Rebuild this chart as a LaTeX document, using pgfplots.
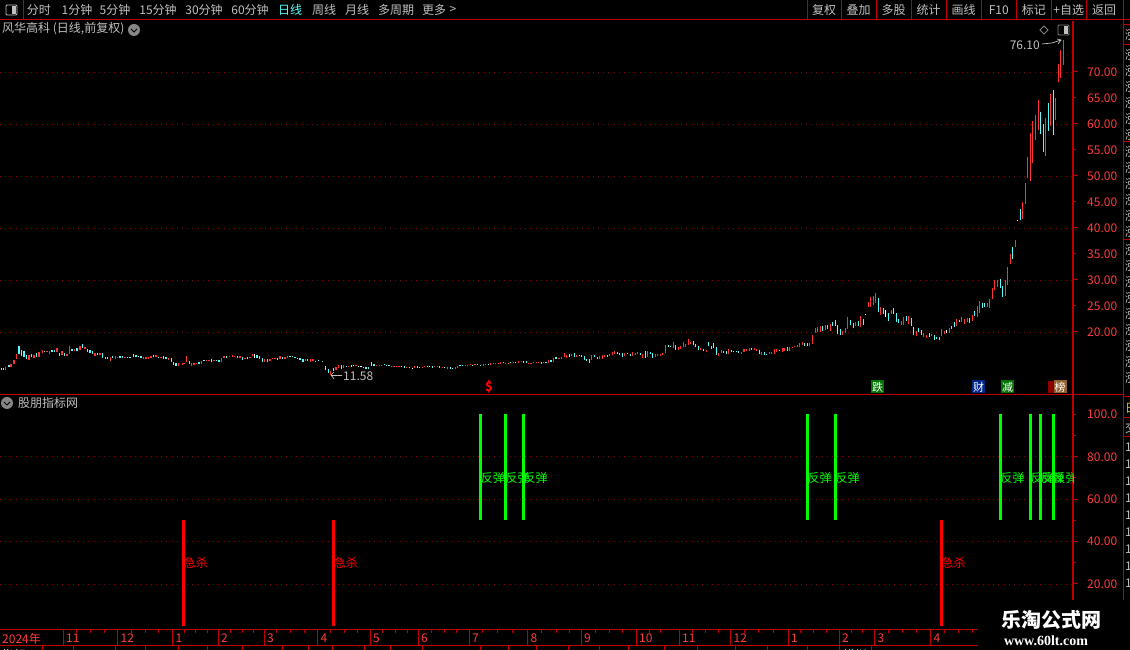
\documentclass[border=0pt]{standalone}
\usepackage{pgfplots}
\usepackage{pgfplotstable}
\usepackage{fontspec}
\pgfplotsset{compat=1.18}
\setmainfont{Noto Sans CJK SC}
\newfontfamily\wmserif{Liberation Serif}

\definecolor{frame}{HTML}{C00000}
\definecolor{griddot}{HTML}{900000}
\definecolor{ticktxt}{HTML}{FF3C3C}
\definecolor{upc}{HTML}{FF3232}
\definecolor{downc}{HTML}{54FCFC}
\definecolor{txt}{HTML}{C0C0C0}
\definecolor{sig}{HTML}{00FF00}

% daily bars: x position, low, high
\pgfplotstableread{
x lo hi
5.7 12.69 13.21
11.0 13.33 13.85
14.0 13.85 14.62
16.3 14.74 15.77
29.0 14.62 15.64
34.0 15.00 15.64
39.0 15.26 16.22
42.3 16.03 16.54
47.0 16.09 16.35
49.3 15.77 16.35
57.0 16.15 16.92
62.0 15.51 16.35
67.0 15.38 15.77
69.3 15.77 17.31
74.3 16.28 16.67
80.0 16.54 17.31
85.0 16.67 17.05
95.0 15.38 16.03
100.0 15.58 15.90
110.3 14.36 15.13
115.3 14.81 15.38
117.7 15.13 15.26
125.0 15.00 15.26
143.7 14.81 15.13
146.0 14.81 15.13
148.7 14.81 15.13
151.0 15.00 15.38
156.0 15.13 15.64
161.0 14.94 15.13
168.7 14.62 15.00
178.3 13.46 14.10
182.3 13.72 14.10
184.0 13.78 14.04
186.3 14.23 15.38
191.7 13.46 14.04
194.0 13.59 14.04
196.7 13.85 14.10
201.3 13.85 14.42
206.7 14.36 14.62
209.0 14.42 14.62
214.0 14.36 14.62
221.3 14.23 15.00
224.0 15.00 15.38
229.3 15.13 15.38
232.3 15.19 15.58
234.7 15.13 15.38
240.0 15.00 15.38
245.0 14.74 15.00
250.0 15.00 15.26
252.3 15.38 15.77
264.7 14.23 14.87
270.0 14.36 14.87
272.3 14.74 15.00
275.0 14.74 15.00
280.0 14.74 15.38
285.0 14.74 15.26
287.3 15.00 15.38
305.3 14.36 14.87
310.3 14.23 14.87
313.0 14.49 14.87
330.7 11.67 12.44
336.0 12.69 13.21
338.7 13.08 13.59
343.7 13.08 13.66
348.7 13.21 13.46
356.0 13.46 13.66
376.7 13.46 13.72
379.3 13.46 13.72
381.7 13.59 13.72
391.7 13.21 13.46
394.0 13.27 13.46
396.7 13.33 13.46
399.0 13.27 13.46
406.7 13.08 13.33
414.3 13.08 13.46
422.3 13.08 13.33
424.3 13.27 13.46
434.7 13.27 13.46
437.3 13.27 13.46
442.3 13.08 13.33
447.3 12.82 13.33
455.3 12.88 13.20
457.3 13.08 13.46
465.3 13.46 13.72
467.3 13.46 13.72
470.3 13.59 13.85
475.0 13.59 13.85
483.3 13.53 13.91
485.3 13.66 13.91
490.3 13.66 13.97
493.3 13.85 14.10
495.7 13.85 14.10
498.3 13.85 14.10
500.3 13.85 14.23
505.7 13.85 14.10
508.3 13.85 14.10
513.3 13.97 14.23
518.3 14.04 14.42
521.3 14.16 14.36
528.3 13.85 14.10
531.0 13.85 14.10
533.7 13.97 14.23
536.3 13.97 14.23
538.3 13.97 14.23
543.7 13.97 14.23
548.3 14.04 14.62
553.3 14.23 15.00
559.0 14.81 15.00
561.3 14.81 15.19
564.3 15.19 15.96
566.3 15.00 15.51
571.7 15.38 15.77
576.7 15.19 15.58
591.3 14.62 15.58
599.3 14.81 15.32
602.3 14.81 15.58
604.7 15.19 15.58
609.7 15.38 15.77
612.3 15.58 16.15
614.3 15.77 16.35
624.7 15.38 15.96
632.3 15.38 16.15
635.3 15.58 15.96
637.3 15.77 16.15
642.7 15.00 15.77
647.3 15.19 16.35
655.3 15.19 15.77
657.3 15.38 15.77
660.3 15.38 15.77
662.3 15.58 15.96
665.3 15.96 17.50
673.3 16.92 18.08
678.3 16.54 17.12
680.3 16.73 17.31
683.3 17.12 18.08
685.3 17.12 17.69
688.3 17.50 18.65
690.3 17.69 18.08
700.3 16.54 16.92
706.3 16.15 16.54
718.3 15.38 15.96
721.3 15.96 16.54
728.3 15.77 16.73
741.3 15.77 16.15
744.0 16.15 16.67
746.3 16.35 16.73
749.3 16.35 16.92
754.3 16.54 16.92
756.3 16.35 16.73
761.3 15.58 16.15
769.3 15.77 16.15
771.3 15.77 16.15
774.3 15.77 16.73
776.3 16.15 16.73
782.3 16.15 16.92
784.0 16.35 16.92
789.3 16.35 17.12
792.3 16.92 17.12
794.3 17.12 17.31
797.3 17.12 17.50
799.3 17.12 17.89
802.3 17.57 18.14
809.3 17.37 17.95
812.3 17.76 19.49
815.3 19.87 20.83
817.3 20.07 21.03
820.3 20.07 21.22
825.3 20.45 21.35
830.3 20.26 21.60
842.3 19.49 20.26
845.3 19.87 20.83
847.3 20.64 22.95
855.3 21.22 21.99
860.3 21.03 23.14
868.3 24.87 25.84
870.3 24.87 26.80
873.3 25.26 26.92
875.3 25.64 27.57
880.3 23.34 24.87
891.3 23.53 24.30
901.3 21.41 22.18
903.3 21.41 22.95
908.3 21.60 23.14
916.3 19.30 20.26
923.3 19.10 19.87
926.3 18.91 19.49
931.3 19.30 19.68
941.3 19.30 20.64
944.3 19.68 20.26
949.3 19.87 20.83
956.3 21.22 22.57
961.3 21.99 22.95
964.3 21.60 22.57
967.3 21.99 22.76
972.3 22.18 23.34
977.3 22.95 25.07
979.3 23.72 26.03
987.3 24.87 25.64
989.3 24.68 26.41
992.3 26.41 28.53
994.3 28.14 30.07
997.3 28.72 29.94
1005.3 26.99 30.07
1007.3 29.10 32.57
1010.3 33.14 35.07
1015.3 36.41 37.76
1022.3 41.78 45.05
1025.3 44.66 48.70
1027.3 49.66 53.70
1030.3 49.09 58.32
1032.3 52.55 60.62
1035.3 56.97 61.78
1038.3 58.89 64.66
1045.3 53.89 61.20
1050.3 59.66 65.82
1055.3 60.82 65.05
1058.3 68.12 71.58
1060.3 68.89 74.28
1063.3 71.39 76.10
}\upbars

\pgfplotstableread{
x lo hi
1.3 12.69 13.01
3.7 12.69 13.08
9.0 13.33 13.59
19.0 15.77 17.31
21.3 15.38 16.54
24.0 15.26 16.35
26.3 14.74 15.58
31.3 15.13 15.77
36.3 15.26 15.90
44.7 16.09 16.35
52.0 16.15 16.54
54.3 16.15 16.54
59.3 15.38 16.03
64.3 15.38 16.03
72.0 16.35 16.73
77.0 16.35 16.86
82.3 16.92 17.69
87.3 16.15 16.79
90.0 16.03 16.54
92.3 15.77 16.41
97.3 15.58 15.96
102.3 15.00 15.90
105.3 14.81 15.13
107.7 14.81 15.13
112.7 15.00 15.32
120.0 15.00 15.38
122.7 15.00 15.32
127.7 15.00 15.26
130.0 15.00 15.26
133.3 15.26 15.77
136.0 15.13 15.51
141.0 15.00 15.32
153.7 15.13 15.51
158.7 14.94 15.13
163.7 14.74 15.38
166.0 14.81 15.26
171.3 14.23 15.00
173.7 13.72 14.23
176.0 13.46 13.97
189.3 13.85 14.42
199.0 13.85 14.23
204.0 14.36 14.62
211.7 14.23 14.87
216.7 14.36 14.62
219.0 14.23 14.62
226.7 15.00 15.45
237.7 15.00 15.38
242.7 14.62 15.13
247.7 14.87 15.26
257.0 15.00 15.51
259.3 14.87 15.38
262.3 14.23 15.00
267.3 14.23 14.74
277.3 14.62 15.06
282.7 14.87 15.26
290.0 15.13 15.38
292.3 15.13 15.38
295.0 14.94 15.13
297.3 14.81 15.00
300.0 14.62 15.00
303.0 14.23 14.74
307.7 14.36 14.74
315.7 14.23 14.49
318.3 14.36 14.62
322.7 14.23 14.49
325.7 12.69 13.46
328.3 12.18 12.95
333.7 12.56 13.08
341.3 12.95 13.59
346.3 13.21 13.46
351.3 13.33 13.66
358.7 13.21 13.46
363.3 13.08 13.33
366.0 12.95 13.33
368.3 12.82 13.33
371.3 13.46 14.23
374.0 13.46 13.78
384.3 13.66 13.91
386.7 13.59 13.72
389.0 13.46 13.72
401.3 13.27 13.46
404.3 13.08 13.46
409.3 13.08 13.27
417.3 13.14 13.46
419.3 13.14 13.33
427.3 13.27 13.46
429.7 13.27 13.46
432.3 13.08 13.46
439.3 13.08 13.46
444.7 13.08 13.33
450.3 12.88 13.33
452.3 12.88 13.14
460.0 13.40 13.66
462.3 13.46 13.72
472.3 13.46 13.72
477.3 13.66 13.91
480.3 13.46 13.72
488.3 13.66 13.91
503.3 13.97 14.23
510.3 13.97 14.23
515.7 13.97 14.23
523.3 14.04 14.42
526.3 14.04 14.42
541.3 13.85 14.23
546.0 13.97 14.23
551.0 14.23 14.62
556.0 14.81 15.19
569.3 15.19 15.77
574.3 15.19 15.96
579.3 15.38 15.58
581.7 15.19 15.58
584.3 14.62 15.38
586.3 14.42 14.81
589.3 14.04 14.81
594.3 15.19 15.58
597.3 14.81 15.19
607.3 15.19 15.58
617.3 15.77 16.15
619.3 15.58 15.96
622.3 15.19 15.96
627.3 15.77 15.96
630.3 15.38 15.77
640.3 15.58 15.96
645.3 15.00 16.35
650.3 15.77 16.15
652.3 15.00 15.96
668.3 17.12 17.50
670.3 17.12 17.31
675.3 16.54 17.50
693.3 17.50 18.27
695.3 17.12 17.69
698.3 16.54 17.31
703.3 16.35 16.73
708.3 17.31 18.08
711.3 16.73 17.31
713.3 16.92 17.89
716.3 15.58 17.12
723.3 15.96 16.35
726.3 15.77 16.35
731.3 16.15 16.54
733.3 16.15 16.35
736.3 16.15 16.35
738.3 15.96 16.35
751.3 16.54 16.92
759.3 15.77 16.54
764.3 15.58 16.15
766.3 15.58 15.77
779.3 16.35 16.54
787.3 16.35 17.12
804.3 17.37 17.95
807.3 17.37 17.95
822.3 20.26 21.22
827.3 20.58 21.35
832.3 21.22 21.99
835.3 21.22 22.37
837.3 19.68 21.41
840.3 19.49 20.64
850.3 21.41 22.37
853.3 20.83 21.80
858.3 21.22 22.18
863.3 21.41 22.57
878.3 23.91 26.60
883.3 23.53 24.68
888.3 22.18 23.72
893.3 23.53 24.68
896.3 21.99 23.72
898.3 21.80 22.57
906.3 22.18 23.14
911.3 21.22 22.76
913.3 19.49 21.03
918.3 20.07 20.83
921.3 19.49 20.45
929.3 19.10 19.87
934.3 18.53 19.49
936.3 18.72 19.10
939.3 18.53 19.10
951.3 20.64 21.22
954.3 21.03 21.99
959.3 21.99 22.37
969.3 21.80 22.76
974.3 23.14 24.10
982.3 24.68 25.64
984.3 24.87 25.64
1000.3 28.53 30.26
1002.3 26.80 28.91
1012.3 34.10 36.41
1020.3 41.59 43.70
1040.3 58.12 62.35
1043.3 54.66 60.05
1048.3 58.70 64.09
1053.3 57.93 66.58
}\downbars

\pgfplotstableread{
x lo hi
138.3 15.13 15.38
254.3 15.00 15.77
353.7 13.40 13.66
361.0 13.21 13.46
412.7 12.88 13.14
865.3 23.34 23.53
885.3 22.95 24.30
946.3 19.87 20.45
1017.3 41.41 41.60
}\flatbars

% signal columns of the lower panel
\pgfplotstableread{
x lo hi
480.7 50 100
505.3 50 100
523.3 50 100
807.5 50 100
835.5 50 100
1000.3 50 100
1030.3 50 100
1040.3 50 100
1053.3 50 100
}\rebound

\pgfplotstableread{
x lo hi
183.6 0 50
333.6 0 50
941.5 0 50
}\plunge

\pgfplotsset{
  panel/.style={
    scale only axis, anchor=south west, width=1073pt,
    xmin=0, xmax=1073,
    axis x line=none, axis y line*=right,
    axis line style={frame, line width=1.2pt},
    tick style={frame, line width=1pt},
    tick align=outside, major tick length=3pt, minor tick length=3pt,
    yticklabel style={anchor=west, inner sep=0pt, text=ticktxt, font=\fontsize{12}{12}\selectfont, xshift=11pt},
    extra tick style={grid=major, major tick length=5pt},
    extra y tick labels={},
    major grid style={griddot, line width=0.8pt, dash pattern=on 1pt off 4.2pt},
  },
  bars/.style n args={2}{
    draw=none, mark=none, forget plot,
    error bars/.cd, y dir=plus, y explicit, error mark=none,
    error bar style={color=#1, line width=#2, solid},
  },
}

\begin{document}
\begin{tikzpicture}
\useasboundingbox (0,0) rectangle (1130pt,650pt);
\clip (0,0) rectangle (1130pt,650pt);
\fill[black] (0,0) rectangle (1130pt,650pt);

% price panel
\begin{axis}[panel, at={(0pt,256pt)}, height=373pt,
  ymin=8.077, ymax=79.81,
  ytick={20,25,30,35,40,45,50,55,60,65,70},
  yticklabels={20.00,25.00,30.00,35.00,40.00,45.00,50.00,55.00,60.00,65.00,70.00},
  extra y ticks={20,30,40,50,60,70},
]
\addplot[bars={upc}{1.5pt}] table[x=x, y=lo, y error plus expr=\thisrow{hi}-\thisrow{lo}] {\upbars};
\addplot[bars={downc}{1.5pt}] table[x=x, y=lo, y error plus expr=\thisrow{hi}-\thisrow{lo}] {\downbars};
\addplot[bars={white}{1.5pt}] table[x=x, y=lo, y error plus expr=\thisrow{hi}-\thisrow{lo}] {\flatbars};
\end{axis}

% signal panel
\begin{axis}[panel, at={(0pt,20pt)}, height=235pt,
  ymin=-1.70, ymax=109.15,
  ytick={20,40,60,80,100},
  yticklabels={20.00,40.00,60.00,80.00,100.0},
  minor y tick num=1,
  extra y ticks={20,40,60,80},
]
\addplot[bars={sig}{3pt}] table[x=x, y=lo, y error plus expr=\thisrow{hi}-\thisrow{lo}] {\rebound};
\addplot[bars={red}{3pt}] table[x=x, y=lo, y error plus expr=\thisrow{hi}-\thisrow{lo}] {\plunge};
\foreach \p in {480.7,505.3,523.3,807.5,835.5,1000.3,1030.3,1040.3,1053.3}{
  \edef\tmp{\noexpand\node[anchor=west, inner sep=0pt, text=sig, font=\noexpand\fontsize{12}{12}\noexpand\selectfont] at (axis cs:\p,70) {反弹};}\tmp
}
\foreach \p in {183.6,333.6,941.5}{
  \edef\tmp{\noexpand\node[anchor=west, inner sep=0pt, text=red, font=\noexpand\fontsize{12}{12}\noexpand\selectfont] at (axis cs:\p,30) {急杀};}\tmp
}
\end{axis}

% date strip
\begin{axis}[scale only axis, anchor=south west, at={(0pt,4pt)}, width=978pt, height=16pt,
  xmin=0, xmax=978, ymin=0, ymax=1, ytick=\empty,
  axis line style={draw=none},
  xtick={63,117.5,172.5,218,264,317.5,370,418,469,527.5,581,636,679,730.5,788,839,874.5,930.5},
  xticklabels={11,12,1,2,3,4,5,6,7,8,9,10,11,12,1,2,3,4},
  xtick pos=upper, xticklabel pos=lower,
  xmajorgrids, major grid style={frame, line width=1pt},
  minor xtick={76,90,104,131,145,158,184,195,207,230,242,253,276,290,304,330,344,357,382,395,407,431,444,456,482,497,512,541,556,569,595,609,622,649,660,692,705,718,744,758,773,800,813,826,851,862,888,902,916,944,958,972},
  tick align=inside, major tick length=0pt, minor tick length=3pt,
  minor tick style={frame, line width=1pt},
  xticklabel style={anchor=west, inner sep=0pt, text=ticktxt, font=\fontsize{12}{12}\selectfont, yshift=8pt, xshift=3pt},
]
\end{axis}

% screen furniture, in image pixels
\begin{scope}[x=1pt, y=-1pt, shift={(0pt,650pt)},
  lab/.style={inner sep=0pt, text=txt, font=\fontsize{12}{12}\selectfont},
  tag/.style={inner sep=0pt, minimum width=13pt, minimum height=13pt, text=white, font=\fontsize{11}{11}\selectfont}]
  \draw[frame, line width=1pt] (0,20) -- (1130,20);
  \draw[frame, line width=1pt] (23,0) -- (23,20);
  \foreach \s in {807.3,841.3,876.3,911.3,946.3,981.3,1016.3,1051.3,1086.3,1123}
    \draw[frame, line width=1pt] (\s,0) -- (\s,20);
  \draw[txt, rounded corners=1pt, line width=0.8pt] (6,5) rectangle (17,15);
  \fill[txt] (12,6) rectangle (16,14);
  \foreach \px/\t in {39/分时,77/1分钟,115/5分钟,158/15分钟,204/30分钟,250/60分钟,324/周线,357/月线,396/多周期,434/更多,453/>,824/复权,858.5/叠加,893.5/多股,928.7/统计,963.7/画线,998.8/F10,1033.8/标记,1068.8/+自选,1104/返回}
    \node[lab] at (\px,10) {\t};
  \node[lab, text=downc] at (290,10) {日线};

  \node[lab, anchor=west] at (2,29) {风华高科 (日线,前复权)};
  \fill[txt!70!black] (134,30) circle (6);
  \draw[black, line width=1pt] (131,29) -- (134,32) -- (137,29);
  \draw[gray, line width=0.8pt] (1044,26) -- (1048,30) -- (1044,34) -- (1040,30) -- cycle;
  \draw[gray, rounded corners=1pt, line width=0.8pt] (1058,25) rectangle (1069,35);
  \fill[txt] (1064,26) rectangle (1068,34);

  \node[lab, anchor=east] at (1040,45) {76.10};
  \draw[txt, line width=0.7pt] (1042,44) -- (1052,43) -- (1061,40);
  \draw[txt, line width=0.7pt] (1057,39) -- (1061,40) -- (1058,44);
  \node[lab, anchor=west] at (343,376) {11.58};
  \draw[txt, line width=0.7pt] (342,375) -- (331,375);
  \draw[txt, line width=0.7pt] (334,372) -- (331,375) -- (334,379);

  % event flags
  \node[font=\bfseries\fontsize{13}{13}\selectfont, text=red, inner sep=0pt] at (489,387) {\$};
  \node[tag, fill=green!45!black] at (877.5,387) {跌};
  \node[tag, fill=blue!45!black!85!cyan] at (978.5,387) {财};
  \node[tag, fill=green!45!black] at (1007.5,387) {减};
  \fill[red!55!black] (1048,381) rectangle (1056,393);
  \node[tag, fill=brown!75!black] at (1060,387) {榜};

  \draw[frame, line width=1.4pt] (0,394.5) -- (1123,394.5);
  \fill[txt!70!black] (7,403) circle (6);
  \draw[black, line width=1pt] (4,402) -- (7,405) -- (10,402);
  \node[lab, anchor=west] at (18,403) {股朋指标网};

  % date strip rules
  \draw[frame, line width=1pt] (0,630) -- (978,630);
  \draw[frame, line width=1pt] (0,646) -- (978,646);
  \node[inner sep=0pt, anchor=west, text=ticktxt, font=\fontsize{12}{12}\selectfont] at (2,638.5) {2024年};
  \foreach \s in {42,73,115,145,178,207,242,282,308,332,364,390,422,480,508,536,568,599,628,664,697,735,767,807,839,871}
    \draw[frame, line width=1pt] (\s,646) -- (\s,650);
  \node[lab, text=white] at (14,655) {指标};
  \node[lab, text=downc] at (855,655) {模拟};

  % clipped side column
  \draw[frame, line width=1pt] (1123,20) -- (1123,610);
  \foreach \s in {25,45,142,240,397,418,437}
    \draw[frame, line width=1pt] (1123,\s) -- (1130,\s);
  \foreach \s in {35,55,71,87,103,119,135,152,168,184,200,216,232,250,266,282,298,314,330,346,362,378}
    \node[lab, anchor=west] at (1125,\s) {涨};
  \node[lab, anchor=west, text=yellow!80!black] at (1125,408) {日};
  \node[lab, anchor=west] at (1125,428) {交};
  \foreach \s in {447,464,481,498,515,532,549,566,583}
    \node[lab, anchor=west] at (1125,\s) {1};

  % watermark
  \fill[black] (978,600) rectangle (1130,650);
  \node[inner sep=0pt, text=white, font=\bfseries\fontsize{20}{20}\selectfont] at (1051,620) {乐淘公式网};
  \node[inner sep=0pt, text=white, font=\wmserif\bfseries\fontsize{14}{14}\selectfont] at (1046,641) {www.60lt.com};
\end{scope}
\end{tikzpicture}
\end{document}
